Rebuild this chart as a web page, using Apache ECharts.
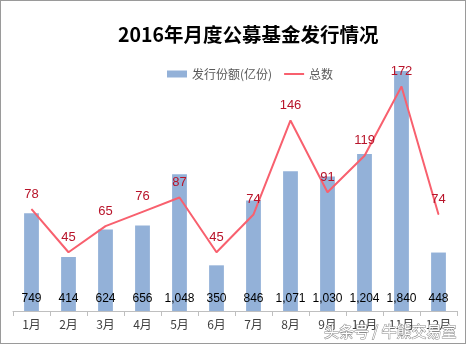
<!DOCTYPE html>
<html>
<head>
<meta charset="utf-8">
<script src="https://cdn.jsdelivr.net/npm/echarts@6/dist/echarts.min.js"></script>
<style>
  html, body { margin: 0; padding: 0; background: #fff; }
  #chart { width: 466px; height: 344px; box-sizing: border-box; border: 1px solid #9a9a9a; }
</style>
</head>
<body>
<div id="chart"></div>
<script>
// Monthly public fund issuance, 2016
const months = ['1月', '2月', '3月', '4月', '5月', '6月', '7月', '8月', '9月', '10月', '11月', '12月'];
const shares = [749, 414, 624, 656, 1048, 350, 846, 1071, 1030, 1204, 1840, 448];   // 发行份额(亿份)
const counts = [78, 45, 65, 76, 87, 45, 74, 146, 91, 119, 172, 74];                   // 总数

const cjk = '"Noto Sans CJK SC", "Liberation Sans", sans-serif';
const chart = echarts.init(document.getElementById('chart'));

chart.setOption({
  animation: false,
  backgroundColor: '#fff',
  title: {
    text: '2016年月度公募基金发行情况',
    left: 112,
    top: 19,
    textStyle: { fontFamily: cjk, fontSize: 19.5, fontWeight: 'bold', color: '#000' }
  },
  legend: {
    top: 62,
    left: 161,
    itemGap: 12,
    itemWidth: 20,
    itemHeight: 7,
    textStyle: { fontFamily: cjk, fontSize: 12, color: '#595959' },
    data: [
      { name: '发行份额(亿份)', icon: 'rect' },
      { name: '总数', icon: 'path://M0,5 L40,5 L40,9 L0,9 Z' }
    ]
  },
  grid: { left: 12, right: 8, top: 49, bottom: 32 },
  xAxis: {
    type: 'category',
    data: months,
    boundaryGap: true,
    axisLine: { lineStyle: { color: '#bfbfbf' } },
    axisTick: { show: true, length: 5, lineStyle: { color: '#bfbfbf' } },
    axisLabel: { fontFamily: cjk, fontSize: 12, color: '#404040', margin: 7 }
  },
  yAxis: [
    { type: 'value', min: 0, max: 2000, show: false, splitLine: { show: false } },
    { type: 'value', min: 0, max: 200, show: false, splitLine: { show: false } }
  ],
  series: [
    {
      name: '发行份额(亿份)',
      type: 'bar',
      data: shares,
      barWidth: '40%',
      itemStyle: { color: '#93b1d8' },
      label: {
        show: true,
        position: 'insideBottom',
        distance: 6,
        fontFamily: '"Liberation Sans", sans-serif',
        fontSize: 12,
        color: '#000',
        formatter: p => p.value.toLocaleString('en-US')
      },
      z: 2
    },
    {
      name: '总数',
      type: 'line',
      yAxisIndex: 1,
      data: counts,
      symbol: 'circle',
      symbolSize: 1,
      showSymbol: true,
      lineStyle: { color: '#f8606e', width: 2 },
      itemStyle: { color: '#f8606e' },
      label: {
        show: true,
        position: 'top',
        distance: 8,
        fontFamily: '"Liberation Sans", sans-serif',
        fontSize: 13,
        color: '#b8142a'
      },
      z: 3
    }
  ],
  graphic: [
    {
      type: 'text',
      right: 8,
      bottom: 4,
      style: {
        text: '头条号 / 牛熊交易室',
        font: '15px "Noto Sans CJK SC", sans-serif',
        fill: '#ffffff',
        stroke: '#8a8a8a',
        lineWidth: 1
      },
      z: 10
    }
  ]
});
</script>
</body>
</html>
